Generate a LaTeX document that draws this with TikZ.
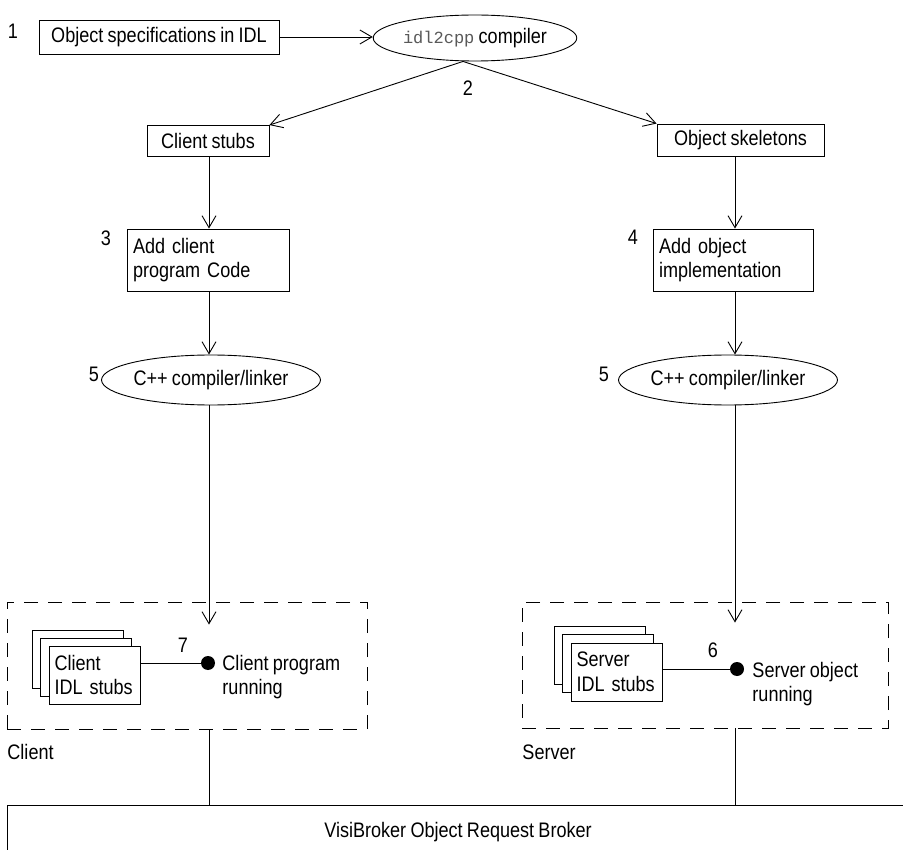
\documentclass[tikz,border=0pt]{standalone}
\usepackage{fontspec}
\setmainfont{Liberation Sans}[FakeStretch=0.86,WordSpace=0.85]
\newfontfamily\codefont{Liberation Mono}
\usetikzlibrary{arrows.meta,shapes.geometric,calc}

\begin{document}
\begin{tikzpicture}[x=1pt,y=-1pt,
  line width=0.9pt,
  every node/.style={font=\fontsize{21}{24.5}\selectfont, inner sep=0pt},
  box/.style={draw, fill=white},
  oval/.style={draw, ellipse, fill=white},
  page/.style={draw, fill=white, minimum width=91, minimum height=58},
  group/.style={draw, dash pattern=on 14pt off 10pt},
  dot/.style={circle, fill=black, minimum size=14},
  num/.style={font=\fontsize{21}{24}\selectfont},
  arr/.style={-{Straight Barb[length=12pt,width=14pt]}}
]
\clip (0,0) rectangle (903,850);

% vertical lanes of the two build chains
\coordinate (laneL) at (209,0);
\coordinate (laneR) at (735,0);

% IDL input and compiler
\node[box, minimum width=240, minimum height=34] (spec) at (159,37) {Object specifications in IDL};
\node[oval, minimum width=196, minimum height=46] (idl) at (475,38)
  {{\codefont\fontsize{17}{20}\selectfont\color{black!65}idl2cpp} compiler};
\node[num] at (13,31) {1};
\node[num] at (468,88) {2};

% generated code
\node[box, minimum width=122, minimum height=31] (stubs) at (208,141) {Client stubs};
\node[box, minimum width=167, minimum height=32] (skel) at (740.5,140) {Object skeletons};

% hand-written code
\node[box, minimum width=162, minimum height=62, text width=150, align=left] (addc) at (208,260)
  {Add client\\program Code};
\node[box, minimum width=160, minimum height=62, text width=148, align=left] (addo) at (733,260)
  {Add object\\implementation};
\node[num] at (106,238) {3};
\node[num] at (633,237) {4};

% C++ build
\node[oval, minimum width=184, minimum height=50] (cppL) at (211,380) {C++ compiler/linker};
\node[oval, minimum width=190, minimum height=50] (cppR) at (728,380) {C++ compiler/linker};
\node[num] at (94,374) {5};
\node[num] at (604,374) {5};

% client side
\node[group, minimum width=360, minimum height=127] (cbox) at (187,665.5) {};
\node[page] (cp3) at (77.5,659) {};
\node[page] (cp2) at (85.5,667) {};
\node[page, text width=80, align=left] (cp1) at (94.5,675) {Client\\IDL stubs};
\node[dot] (cdot) at (208,663) {};
\node[anchor=west, align=left] (crun) at (222,677) {Client program\\running};
\node[num] at (183,645) {7};
\node[anchor=west] (clab) at (7,752) {Client};

% server side
\node[group, minimum width=366, minimum height=126] (sbox) at (705,665) {};
\node[page] (sp3) at (599.5,655) {};
\node[page] (sp2) at (607.5,663) {};
\node[page, text width=80, align=left] (sp1) at (616.5,672) {Server\\IDL stubs};
\node[dot] (sdot) at (737,669) {};
\node[anchor=west, align=left] (srun) at (752,684) {Server object\\running};
\node[num] at (713,650) {6};
\node[anchor=west] (slab) at (522,752) {Server};

% object request broker
\node[draw, anchor=north west, minimum width=960, minimum height=80] (orb) at (7,805) {};
\node (orbtxt) at (458,832) {VisiBroker Object Request Broker};

% flow
\coordinate (split) at ($(idl.south)+(-12,0)$);
\coordinate (inL) at ($(cbox.north -| laneL)+(0,23)$);
\coordinate (inR) at ($(sbox.north -| laneR)+(0,21)$);

\draw[arr] (spec.east) -- (idl.west |- spec.east);
\draw[arr] (split) -- (stubs.north east);
\draw[arr] (split) -- (skel.north west);
\draw[arr] (stubs.south -| laneL) -- (addc.north -| laneL);
\draw[arr] (skel.south -| laneR) -- (addo.north -| laneR);
\draw[arr] (addc.south -| laneL) -- (cppL.north -| laneL);
\draw[arr] (addo.south -| laneR) -- (cppR.north -| laneR);
\draw[arr] (cppL.south -| laneL) -- (inL);
\draw[arr] (cppR.south -| laneR) -- (inR);

\draw (cp1.east |- cdot) -- (cdot);
\draw (sp1.east |- sdot) -- (sdot);

\draw (cbox.south -| laneL) -- (orb.north -| laneL);
\draw (sbox.south -| laneR) -- (orb.north -| laneR);
\end{tikzpicture}
\end{document}
